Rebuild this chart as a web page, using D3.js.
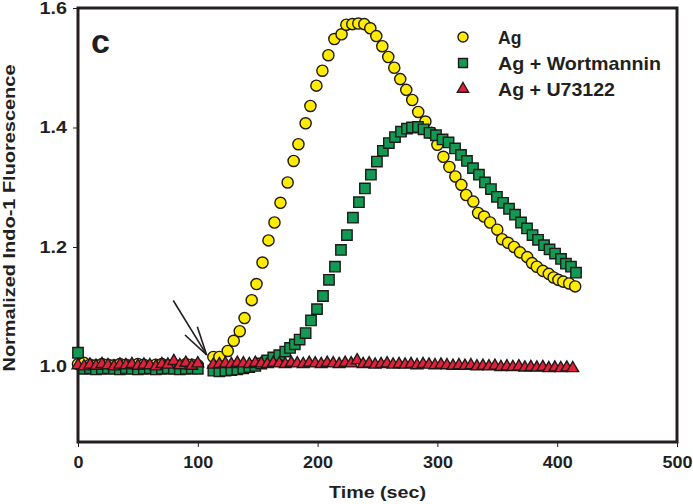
<!DOCTYPE html>
<html><head><meta charset="utf-8">
<script src="https://cdn.jsdelivr.net/npm/d3@7/dist/d3.min.js"></script>
<style>body{margin:0;background:#fff}svg{display:block}</style>
</head><body><svg id="chart" width="693" height="504"></svg>
<script>
// ---- data ----
const xTicks = [0, 100, 200, 300, 400, 500];
const yTicks = [1.0, 1.2, 1.4, 1.6];
const seriesNames = ["Ag", "Ag + Wortmannin", "Ag + U73122"];

const agTime = [0,5,10,15,20,25,30,35,40,45,50,55,60,65,70,75,80,85,90,95,100,
  113,118,125,130,135,139,145,149,154,159,164,169,175,180,184,190,194,199,204,209,
  214,220,224,229,234,239,244,249,254,259,264,269,274,279,284,290,295,300,305,310,
  315,320,324,330,334,339,344,350,354,359,364,369,375,379,383,388,393,397,401,405,410,415];
const agValue = [1.004,1.006,1.003,1.002,1.004,1.003,1.002,1.004,1.003,1.002,1.004,1.003,1.001,1.003,1.004,1.002,1.003,1.001,1.004,1.003,1.002,
  1.016,1.016,1.026,1.043,1.059,1.081,1.111,1.138,1.174,1.211,1.241,1.274,1.308,1.344,1.372,1.407,1.436,1.470,1.495,1.521,
  1.548,1.556,1.572,1.573,1.574,1.573,1.566,1.553,1.536,1.518,1.500,1.481,1.463,1.446,1.426,1.410,1.391,1.371,1.351,1.334,
  1.318,1.304,1.287,1.276,1.257,1.251,1.241,1.229,1.213,1.207,1.200,1.191,1.183,1.173,1.167,1.160,1.155,1.149,1.145,1.142,1.139,1.134];

const wortTime = [0,5,10,15,20,25,30,35,40,45,50,55,60,65,70,75,80,85,90,95,100,
  113,118,123,128,133,138,143,148,153,158,163,168,173,177,181,185,190,194.5,199.5,204.5,
  209.5,214.5,219.5,224.5,229.5,234.5,239.5,244.5,249.5,254.5,259.5,264.6,269.6,274.6,278.8,283.8,
  288.4,293.4,298.8,304.3,309.3,314.7,319.7,324.7,329.7,334.7,339.7,344.7,349.7,354.8,359.8,364.8,
  369.8,374.8,379.4,384,389,393.6,398.2,403.2,407.3,411.5,415.7];
const wortValue = [1.023,0.996,0.997,0.995,0.996,0.997,0.996,0.995,0.997,0.996,0.995,0.996,0.997,0.995,0.996,0.997,0.996,0.995,0.996,0.997,0.996,
  0.993,0.992,0.993,0.994,0.995,0.997,0.999,1.001,1.005,1.010,1.015,1.019,1.025,1.031,1.037,1.045,1.056,1.077,1.096,1.118,
  1.145,1.167,1.195,1.220,1.249,1.275,1.298,1.321,1.343,1.361,1.374,1.384,1.393,1.398,1.400,1.401,
  1.397,1.391,1.387,1.380,1.375,1.365,1.354,1.344,1.332,1.321,1.308,1.297,1.284,1.274,1.264,1.254,
  1.241,1.231,1.220,1.212,1.203,1.196,1.189,1.180,1.172,1.167,1.157];

const u73Time = [0,5,10,15,20,25,30,35,40,45,50,55,60,65,70,75,80,85,90,95,100,
  113,118,123,128,133,138,143,148,153,158,163,168,173,178,183,188,193,198,203,208,
  213,218,223,228,233,238,243,248,253,258,263,268,273,278,283,288,293,298,303,308,
  313,318,323,328,333,338,343,348,353,358,363,368,373,378,383,388,393,398,403,408,413];
const u73Value = [1.002,1.000,1.003,1.001,1.004,1.002,1.000,1.003,1.002,1.004,1.001,1.003,1.002,1.000,1.004,1.003,1.009,1.002,1.006,1.001,1.005,
  1.003,1.004,1.005,1.004,1.006,1.005,1.004,1.006,1.005,1.004,1.006,1.005,1.004,1.006,1.005,1.004,1.006,1.005,1.004,1.006,
  1.005,1.004,1.006,1.005,1.010,1.004,1.005,1.003,1.004,1.005,1.003,1.004,1.003,1.004,1.002,1.004,1.003,1.002,1.003,1.002,
  1.001,1.002,1.001,1.002,1.000,1.001,1.000,1.001,0.999,1.000,0.999,1.000,0.998,0.999,0.998,0.999,0.997,0.998,0.997,0.998,0.997];

// annotation arrow (data units): tail, tip, two barb ends
const arrowLine = [[79.5, 1.1105], [107.4, 1.0193]];
const arrowBarbs = [[89.3, 1.0527], [99.6, 1.0666]];

// ---- drawing ----
const svg = d3.select("#chart");
const L = 78, R = 677, T = 8, B = 442;
const x = d3.scaleLinear().domain([0, 500]).range([L, R]);
const y = d3.scaleLinear().domain([0.8736, 1.6]).range([B, T]);
const ink = "#231f20";
const font = "'Liberation Sans', Arial, Helvetica, sans-serif";

const colors = ["#ffec00", "#129a55", "#e3203c"];
const stroke = "#1f1a17";

// axes
const yAxis = d3.axisLeft(y).tickValues(yTicks).tickFormat(d3.format(".1f")).tickSize(5).tickPadding(6);
const gy = svg.append("g").attr("transform", `translate(${L},0)`).call(yAxis);
const xAxis = d3.axisBottom(x).tickValues(xTicks).tickFormat(d3.format("d")).tickSize(5).tickPadding(9);
const gx = svg.append("g").attr("transform", `translate(0,${B})`).call(xAxis);
[gx, gy].forEach(g => {
  g.select(".domain").remove();
  g.selectAll(".tick line").attr("stroke", ink).attr("stroke-width", 1);
  g.selectAll(".tick text").attr("fill", ink).attr("font-family", font)
    .attr("font-weight", "bold").attr("font-size", 17);
});
gy.selectAll(".tick text").attr("textLength", 27.5).attr("lengthAdjust", "spacingAndGlyphs");
gx.selectAll(".tick text").each(function(d) {
  d3.select(this).attr("textLength", d === 0 ? 10 : 30).attr("lengthAdjust", "spacingAndGlyphs");
});

// frame
svg.append("rect").attr("x", L).attr("y", T).attr("width", R - L).attr("height", B - T)
  .attr("fill", "none").attr("stroke", ink).attr("stroke-width", 3);

// axis titles
svg.append("text").attr("x", (L + R) / 2).attr("y", 498).attr("text-anchor", "middle")
  .attr("font-family", font).attr("font-weight", "bold").attr("font-size", 17).attr("fill", ink)
  .attr("textLength", 97).attr("lengthAdjust", "spacingAndGlyphs").text("Time (sec)");
svg.append("text").attr("transform", "translate(15,218) rotate(-90)").attr("text-anchor", "middle")
  .attr("font-family", font).attr("font-weight", "bold").attr("font-size", 17).attr("fill", ink)
  .attr("textLength", 307).attr("lengthAdjust", "spacingAndGlyphs").text("Normalized Indo-1 Fluorescence");

// panel letter
svg.append("text").attr("x", 91).attr("y", 53).attr("font-family", font).attr("font-weight", "bold")
  .attr("font-size", 34).attr("fill", ink).text("c");

// arrow annotation
const line = d3.line().x(d => x(d[0])).y(d => y(d[1]));
svg.append("path").attr("d", line(arrowLine)).attr("stroke", ink).attr("stroke-width", 1.6).attr("fill", "none");
arrowBarbs.forEach(b => {
  svg.append("path").attr("d", line([b, arrowLine[1]])).attr("stroke", ink).attr("stroke-width", 1.6).attr("fill", "none");
});

// series
const symbols = [d3.symbolCircle, d3.symbolSquare, d3.symbolTriangle];
const sizes = [98, 108, 60];
const series = [
  {t: agTime, v: agValue},
  {t: wortTime, v: wortValue},
  {t: u73Time, v: u73Value}
];
series.forEach((s, i) => {
  const pts = s.t.map((t, j) => [t, s.v[j]]);
  svg.append("g").selectAll("path").data(pts).join("path")
    .attr("transform", d => `translate(${x(d[0])},${y(d[1])})`)
    .attr("d", d3.symbol(symbols[i], sizes[i])())
    .attr("fill", colors[i]).attr("stroke", stroke).attr("stroke-width", 1.4);
});

// legend
const legY = [37, 63, 89];
const legSizes = [80, 80, 55];
const legWidths = [23.5, 163, 117];
seriesNames.forEach((name, i) => {
  svg.append("path").attr("transform", `translate(463,${legY[i]})`)
    .attr("d", d3.symbol(symbols[i], legSizes[i])())
    .attr("fill", colors[i]).attr("stroke", stroke).attr("stroke-width", 1.4);
  svg.append("text").attr("x", 498).attr("y", legY[i] + 7).attr("font-family", font)
    .attr("font-weight", "bold").attr("font-size", 18.5).attr("fill", ink)
    .attr("textLength", legWidths[i]).attr("lengthAdjust", "spacingAndGlyphs").text(name);
});
</script></body></html>
